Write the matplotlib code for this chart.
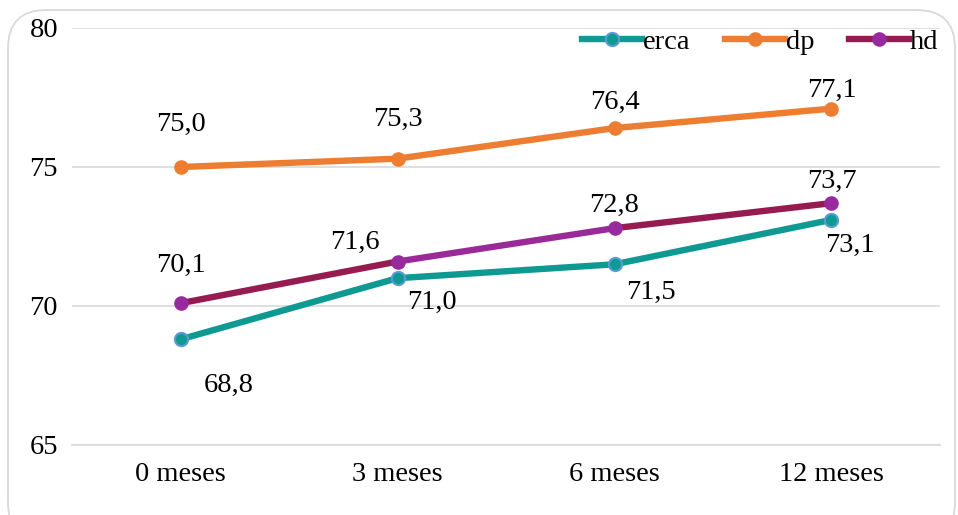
import matplotlib
matplotlib.use("Agg")
import matplotlib.pyplot as plt
from matplotlib.patches import FancyBboxPatch
from matplotlib.lines import Line2D

categories = ["0 meses", "3 meses", "6 meses", "12 meses"]
erca = [68.8, 71.0, 71.5, 73.1]
dp = [75.0, 75.3, 76.4, 77.1]
hd = [70.1, 71.6, 72.8, 73.7]
yticks = [65, 70, 75, 80]

c_erca, c_erca_edge = "#0E9A92", "#5B9BD5"
c_dp = "#ED7D31"
c_hd_line = "#951B50"
c_hd_line2 = "#9A2A98"
c_hd_marker = "#982AA0"
hd_seg_colors = [c_hd_line, c_hd_line2, c_hd_line]

plt.rcParams['font.family'] = ['Liberation Serif', 'DejaVu Serif']
fig = plt.figure(figsize=(9.58, 5.15), dpi=100)
W, H = 958, 515
ax = fig.add_axes([72 / W, 1 - 445 / H, (940 - 72) / W, (445 - 28) / H])

x = list(range(len(categories)))
lw = 4.6
ms = 9.5

ax.plot(x, erca, color=c_erca, lw=lw, marker="o", ms=ms, mfc=c_erca,
        mec=c_erca_edge, mew=1.5, zorder=3, solid_capstyle="round")
ax.plot(x, dp, color=c_dp, lw=lw, marker="o", ms=ms, mfc=c_dp, mec=c_dp,
        zorder=3, solid_capstyle="round")
for i in range(len(x) - 1):
    ax.plot(x[i:i + 2], hd[i:i + 2], color=hd_seg_colors[i], lw=lw, zorder=3,
            solid_capstyle="round")
ax.plot(x, hd, ls="none", marker="o", ms=ms, mfc=c_hd_marker, mec=c_hd_marker, zorder=4)

fs = 20.5
def lab(v):
    return f"{v:.1f}".replace(".", ",")

erca_off = [(48, -46), (34, -24), (36, -28), (18, -26)]
dp_off = [(0, 43), (0, 39), (0, 26), (0, 18)]
hd_off = [(0, 38), (-43, 19), (0, 23), (0, 22)]
for series, offs in ((erca, erca_off), (dp, dp_off), (hd, hd_off)):
    for xi, v, o in zip(x, series, offs):
        ax.annotate(lab(v), (xi, v), xytext=o, textcoords="offset pixels",
                    ha="center", va="center", fontsize=fs, color="#000000")

ax.set_xlim(-0.5, 3.5)
ax.set_ylim(65, 80)
ax.set_yticks(yticks)
ax.set_xticks(x)
ax.set_xticklabels(categories)
ax.tick_params(axis="both", length=0, labelsize=fs, colors="#000000")
ax.tick_params(axis="y", pad=10)
ax.tick_params(axis="x", pad=12)
ax.grid(axis="y", color="#D9D9D9", lw=1.2)
ax.set_axisbelow(True)
for s in ["top", "right", "left"]:
    ax.spines[s].set_visible(False)
ax.spines["bottom"].set_color("#D9D9D9")
ax.spines["bottom"].set_linewidth(1.2)

handles = [
    Line2D([], [], color=c_erca, lw=lw, marker="o", ms=ms, mfc=c_erca, mec=c_erca_edge, mew=1.5),
    Line2D([], [], color=c_dp, lw=lw, marker="o", ms=ms, mfc=c_dp, mec=c_dp),
    Line2D([], [], color=c_hd_line, lw=lw, marker="o", ms=ms, mfc=c_hd_marker, mec=c_hd_marker),
]
leg = fig.legend(handles, ["erca", "dp", "hd"], loc="center right",
                 bbox_to_anchor=(950 / W, 1 - 42 / H), ncol=3, frameon=False,
                 fontsize=fs, handlelength=2.1, handletextpad=0.05,
                 columnspacing=1.2, borderaxespad=0)

border = FancyBboxPatch((8 / W, -0.05), (955 - 8) / W, (1 - 10 / H) + 0.05,
                        boxstyle="round,pad=0,rounding_size=0.04",
                        transform=fig.transFigure, fill=False,
                        ec="#D9D9D9", lw=1.3, mutation_aspect=W / H)
fig.patches.append(border)

fig.savefig("out.png", dpi=100)
